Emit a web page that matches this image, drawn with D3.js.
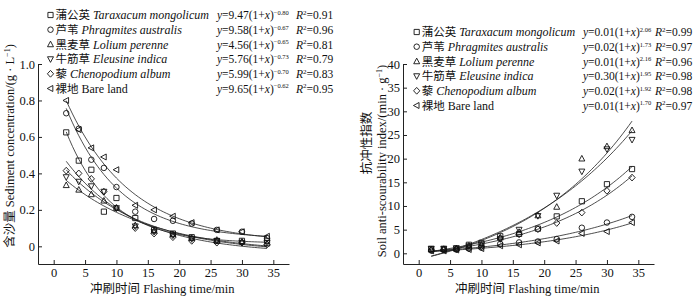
<!DOCTYPE html>
<html>
<head>
<meta charset="utf-8">
<script src="https://cdn.jsdelivr.net/npm/d3@7"></script>
<style>
body { margin: 0; background: #fff; }
text { font-family: "Liberation Serif", "Times New Roman", serif; fill: #111; }
.cn { font-family: "Noto Sans CJK SC", sans-serif; }
</style>
</head>
<body>
<svg id="chart" width="700" height="296"></svg>
<script>
// flushing times (min)
const times = [2, 4, 6, 8, 10, 13, 16, 19, 22, 26, 30, 34];

// sediment concentration (g/L), left panel
const sedTaraxacum = [0.625, 0.47, 0.42, 0.19, 0.265, 0.155, 0.09, 0.07, 0.05, 0.03, 0.03, 0.03];
const sedPhragmites = [0.73, 0.645, 0.475, 0.43, 0.325, 0.19, 0.15, 0.14, 0.125, 0.09, 0.08, 0.045];
const sedLolium = [0.335, 0.31, 0.285, 0.25, 0.21, 0.115, 0.085, 0.065, 0.045, 0.035, 0.025, 0.015];
const sedEleusine = [0.38, 0.355, 0.33, 0.30, 0.21, 0.11, 0.08, 0.06, 0.04, 0.03, 0.02, 0.02];
const sedChenopodium = [0.415, 0.40, 0.37, 0.30, 0.21, 0.10, 0.07, 0.05, 0.03, 0.02, 0.02, 0.01];
const sedBare = [0.80, 0.64, 0.54, 0.49, 0.42, 0.225, 0.20, 0.165, 0.13, 0.09, 0.08, 0.055];

// anti-scourability index (min/g), right panel
const antiTaraxacum = [0.9, 0.9, 1.0, 1.8, 2.2, 3.6, 4.1, 5.2, 7.8, 11.0, 14.6, 17.8];
const antiPhragmites = [0.6, 0.7, 0.8, 1.0, 1.2, 2.0, 2.3, 2.5, 3.0, 5.4, 6.5, 7.7];
const antiLolium = [0.8, 0.9, 1.0, 1.6, 1.8, 3.3, 4.5, 8.0, 9.8, 20.0, 22.6, 26.0];
const antiEleusine = [1.0, 1.0, 1.1, 1.5, 1.9, 3.0, 5.0, 7.9, 12.2, 17.3, 22.0, 24.0];
const antiChenopodium = [0.7, 0.8, 0.9, 1.1, 1.5, 3.2, 4.0, 5.1, 6.4, 8.6, 13.2, 16.0];
const antiBare = [0.5, 0.5, 0.7, 0.8, 1.0, 1.6, 1.8, 2.2, 2.6, 4.2, 4.6, 6.5];

// legend texts
const cnNames = ["蒲公英", "芦苇", "黑麦草", "牛筋草", "藜", "裸地"];
const latinNames = ["Taraxacum mongolicum", "Phragmites australis", "Lolium perenne", "Eleusine indica", "Chenopodium album", "Bare land"];
const markerTypes = ["square", "circle", "up", "down", "diamond", "left"];
const sedCoef = ["9.47", "9.58", "4.56", "5.76", "5.99", "9.65"];
const sedExp = ["−0.80", "−0.67", "−0.65", "−0.73", "−0.70", "−0.62"];
const sedR2 = ["0.91", "0.96", "0.81", "0.79", "0.83", "0.95"];
const antiCoef = ["0.01", "0.02", "0.01", "0.30", "0.02", "0.01"];
const antiExp = ["2.06", "1.73", "2.16", "1.95", "1.92", "1.70"];
const antiR2 = ["0.99", "0.97", "0.96", "0.98", "0.98", "0.97"];

const xTicks = [0, 5, 10, 15, 20, 25, 30, 35];
const sedTicks = [0, 0.2, 0.4, 0.6, 0.8, 1.0];
const antiTicks = [0, 5, 10, 15, 20, 25, 30, 35, 40];

const svg = d3.select("#chart");

// trend line y = a*exp(b*x) + c, b found by a simple scan, a and c by least squares
function expFit(xs, ys, sign) {
  let best = null;
  for (let k = 1; k <= 500; k++) {
    const b = sign * k * 0.001;
    const e = xs.map(x => Math.exp(b * x));
    const me = d3.mean(e), my = d3.mean(ys);
    let sxy = 0, sxx = 0;
    e.forEach((v, i) => { sxy += (v - me) * (ys[i] - my); sxx += (v - me) * (v - me); });
    const a = sxy / sxx, c = my - a * me;
    const sse = d3.sum(e, (v, i) => (a * v + c - ys[i]) ** 2);
    if (!best || sse < best.sse) best = { a, b, c, sse };
  }
  return x => best.a * Math.exp(best.b * x) + best.c;
}

function markerPath(type) {
  const h = 2.6;
  switch (type) {
    case "square": return `M${-h},${-h}H${h}V${h}H${-h}Z`;
    case "circle": return d3.symbol(d3.symbolCircle, 24)();
    case "up": return `M0,${-h * 1.25}L${h * 1.15},${h * 0.9}L${-h * 1.15},${h * 0.9}Z`;
    case "down": return `M0,${h * 1.25}L${h * 1.15},${-h * 0.9}L${-h * 1.15},${-h * 0.9}Z`;
    case "diamond": return `M0,${-h * 1.3}L${h * 1.2},0L0,${h * 1.3}L${-h * 1.2},0Z`;
    case "left": return `M${-h * 1.25},0L${h * 0.9},${-h * 1.15}L${h * 0.9},${h * 1.15}Z`;
  }
}

function drawPanel(opt) {
  const x = d3.scaleLinear().domain([-2.5, 37.5]).range([opt.left, opt.left + 251]);
  const y = d3.scaleLinear().domain(opt.yDomain).range([264, 64]);
  const g = svg.append("g");

  const xAxis = g.append("g").attr("transform", "translate(0,264)")
    .call(d3.axisBottom(x).tickValues(xTicks).tickSize(-4).tickPadding(4).tickSizeOuter(0));
  const yAxis = g.append("g").attr("transform", `translate(${opt.left},0)`)
    .call(d3.axisLeft(y).tickValues(opt.ticks).tickSize(-4).tickPadding(3).tickSizeOuter(0)
      .tickFormat(opt.fmt));
  [xAxis, yAxis].forEach(a => {
    a.select(".domain").attr("stroke", "#222").attr("stroke-width", 1);
    a.selectAll(".tick line").attr("stroke", "#222");
    a.selectAll("text").attr("font-size", 12.5).attr("fill", "#111")
      .style("font-family", '"Liberation Serif", serif');
  });

  const line = d3.line().x(d => x(d[0])).y(d => y(d[1]));
  opt.series.forEach(vals => {
    const f = expFit(times, vals, opt.sign);
    const pts = d3.range(2, 34.01, 0.5).map(t => [t, f(t)]);
    g.append("path").attr("d", line(pts)).attr("fill", "none")
      .attr("stroke", "#222").attr("stroke-width", 0.8);
  });
  opt.series.forEach((vals, i) => {
    g.selectAll(null).data(vals).enter().append("path")
      .attr("d", markerPath(markerTypes[i]))
      .attr("transform", (d, j) => `translate(${x(times[j])},${y(d)})`)
      .attr("fill", "none").attr("stroke", "#111").attr("stroke-width", 0.9);
  });

  // x title
  const xt = g.append("text").attr("x", x(17.3)).attr("y", 293).attr("text-anchor", "middle").attr("font-size", 12.5);
  xt.append("tspan").attr("class", "cn").text("冲刷时间");
  xt.append("tspan").text(" Flashing time/min");

  // legend
  cnNames.forEach((cn, i) => {
    const cy = opt.legY + i * 14.7;
    g.append("path").attr("d", markerPath(markerTypes[i]))
      .attr("transform", `translate(${opt.legX},${cy})`)
      .attr("fill", "none").attr("stroke", "#111").attr("stroke-width", 0.9);
    const t = g.append("text").attr("x", opt.legX + 5).attr("y", cy + 4.3).attr("font-size", 12);
    t.append("tspan").attr("class", "cn").attr("font-size", 11.5).text(cn);
    t.append("tspan").attr("font-style", i === 5 ? "normal" : "italic").text(" " + latinNames[i]);

    const e = g.append("text").attr("x", opt.eqX).attr("y", cy + 4.3).attr("font-size", 11.5);
    e.append("tspan").attr("font-style", "italic").text("y");
    e.append("tspan").text("=" + opt.coef[i] + "(1+");
    e.append("tspan").attr("font-style", "italic").text("x");
    e.append("tspan").text(")");
    e.append("tspan").attr("dy", -4.5).attr("font-size", 6.5).text(opt.exp[i]);

    const r = g.append("text").attr("x", opt.rX).attr("y", cy + 4.3).attr("font-size", 11.5);
    r.append("tspan").attr("font-style", "italic").text("R");
    r.append("tspan").attr("dy", -4.5).attr("font-size", 7).text("2");
    r.append("tspan").attr("dy", 4.5).text("=" + opt.r2[i]);
  });
}

drawPanel({
  left: 38, yDomain: [-0.097, 1.0], ticks: sedTicks, fmt: d => d === 0 ? "0" : d3.format(".1f")(d),
  series: [sedTaraxacum, sedPhragmites, sedLolium, sedEleusine, sedChenopodium, sedBare], sign: -1,
  legX: 50.5, legY: 15, eqX: 217, rX: 296, coef: sedCoef, exp: sedExp, r2: sedR2
});
drawPanel({
  left: 403, yDomain: [-2.26, 40], ticks: antiTicks, fmt: d3.format("d"),
  series: [antiTaraxacum, antiPhragmites, antiLolium, antiEleusine, antiChenopodium, antiBare], sign: 1,
  legX: 416.7, legY: 32, eqX: 583, rX: 655, coef: antiCoef, exp: antiExp, r2: antiR2
});

// y titles
const yl = svg.append("text").attr("transform", "translate(14,146) rotate(-90)")
  .attr("text-anchor", "middle").attr("font-size", 12.5);
yl.append("tspan").attr("class", "cn").text("含沙量");
yl.append("tspan").text(" Sediment concentration/(g · L");
yl.append("tspan").attr("dy", -4.5).attr("font-size", 8).text("−1");
yl.append("tspan").attr("dy", 4.5).text(")");

svg.append("text").attr("class", "cn").attr("transform", "translate(371,143) rotate(-90)")
  .attr("text-anchor", "middle").attr("font-size", 12.5).text("抗冲性指数");
const yr = svg.append("text").attr("transform", "translate(386,161) rotate(-90)")
  .attr("text-anchor", "middle").attr("font-size", 12.5);
yr.append("tspan").text("Soil anti-scourability index/(min · g");
yr.append("tspan").attr("dy", -4.5).attr("font-size", 8).text("−1");
yr.append("tspan").attr("dy", 4.5).text(")");
</script>
</body>
</html>
